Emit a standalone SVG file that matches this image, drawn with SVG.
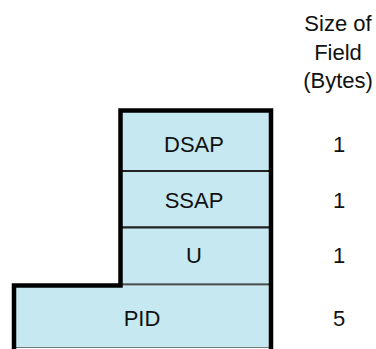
<svg xmlns="http://www.w3.org/2000/svg" width="376" height="349" viewBox="0 0 376 349">
<style>
.cell{fill:#c6e8f1;stroke:#222;stroke-width:2}
.lbl{font-family:"Liberation Sans",Arial,sans-serif;font-size:22px;fill:#111;text-anchor:middle}
.hdr{font-family:"Liberation Sans",Arial,sans-serif;font-size:22px;fill:#111;text-anchor:middle}
.outline{fill:none;stroke:#000;stroke-width:4.5;stroke-linejoin:miter}
</style>
<rect width="376" height="349" fill="#fff"/>
<g id="header">
<text class="hdr" x="338" y="31">Size of</text>
<text class="hdr" x="338" y="59.5">Field</text>
<text class="hdr" x="338" y="87.5">(Bytes)</text>
</g>
<g id="dsap">
<rect class="cell" x="120.5" y="110.5" width="150.5" height="60.5"/>
<text class="lbl" x="194" y="151.5">DSAP</text>
<text class="lbl" x="339" y="151.5">1</text>
</g>
<g id="ssap">
<rect class="cell" x="120.5" y="171" width="150.5" height="56.5"/>
<text class="lbl" x="194" y="207.5">SSAP</text>
<text class="lbl" x="339" y="207.5">1</text>
</g>
<g id="u">
<rect class="cell" x="120.5" y="227.5" width="150.5" height="57"/>
<text class="lbl" x="194" y="263">U</text>
<text class="lbl" x="339" y="263">1</text>
</g>
<g id="pid">
<rect class="cell" x="14" y="285" width="257" height="62.5" style="stroke:#777;stroke-width:1"/>
<text class="lbl" x="142" y="326">PID</text>
<text class="lbl" x="339" y="326">5</text>
</g>
<g id="connectors">
<path class="outline" d="M14,352 V285.5 H120.5 V110.5 H271 V352"/>
</g>
</svg>
